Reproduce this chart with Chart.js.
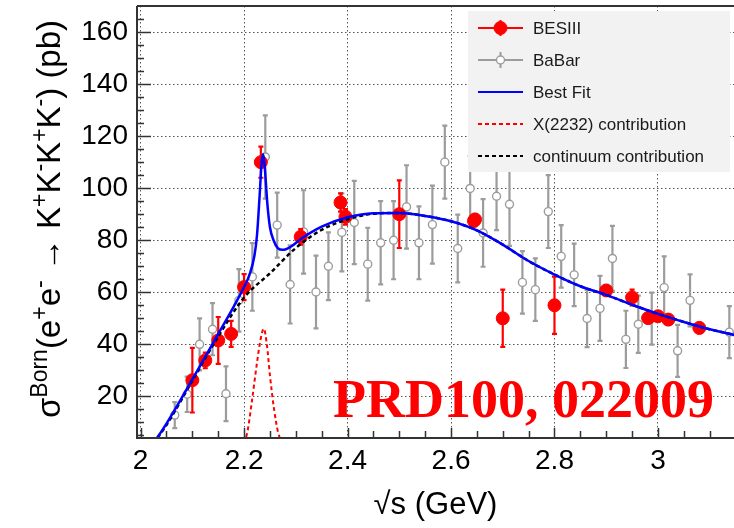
<!DOCTYPE html>
<html>
<head>
<meta charset="utf-8">
<script src="https://cdn.jsdelivr.net/npm/chart.js@4.4.1/dist/chart.umd.min.js"></script>
<style>
  body { margin: 0; background: #fff; }
  #wrap { width: 734px; height: 528px; }
</style>
</head>
<body>
<div id="wrap"><canvas id="myChart" width="734" height="528"></canvas></div>
<script>
// BESIII points (sqrt(s) in GeV, cross section in pb, error)
const besE   = [2.1, 2.125, 2.15, 2.175, 2.2, 2.2324, 2.3094, 2.3864, 2.396, 2.5, 2.6444, 2.6464, 2.7, 2.8, 2.9, 2.95, 2.981, 3.0, 3.02, 3.08];
const besXs  = [26.2, 33.8, 41.5, 44.0, 62.0, 110.0, 81.3, 94.5, 89.0, 90.0, 87.4, 88.0, 50.0, 55.0, 60.7, 58.0, 50.1, 50.8, 49.5, 46.3];
const besErr = [12.4, 3, 9, 5, 5, 6, 3, 3.5, 3, 13, 2, 2, 11, 11, 2, 3, 2, 2, 2, 2];

// BaBar points
const babE   = [2.066, 2.090, 2.114, 2.139, 2.165, 2.190, 2.216, 2.241, 2.264, 2.289, 2.315, 2.339, 2.363, 2.389, 2.413, 2.439, 2.464, 2.489, 2.514, 2.538, 2.564, 2.588, 2.613, 2.637, 2.662, 2.688, 2.713, 2.738, 2.763, 2.788, 2.813, 2.838, 2.863, 2.888, 2.912, 2.938, 2.962, 2.988, 3.012, 3.038, 3.062, 3.138];
const babXs  = [12.8, 20.8, 40.0, 45.8, 21.0, 56.9, 65.9, 112.0, 85.8, 63.0, 83.2, 60.1, 70.0, 83.0, 86.8, 70.8, 79.0, 80.0, 92.8, 79.0, 86.0, 110.0, 76.8, 99.9, 82.8, 96.9, 93.8, 63.8, 61.0, 91.0, 73.8, 66.7, 49.9, 53.8, 73.0, 41.9, 47.7, 49.9, 61.8, 37.5, 56.9, 44.7];
const babErr = [5, 6.8, 10, 10, 10.5, 12, 13, 16, 12.5, 15, 16, 14, 13, 15, 16, 14, 16, 15, 16, 14, 15, 14, 13, 12.5, 13, 13, 16, 12, 12, 14, 12, 12, 11, 12.5, 12.5, 11, 11, 10, 12, 10, 10, 10];

// fit curves
const fitE  = [2.025, 2.05, 2.1, 2.15, 2.18, 2.2, 2.21, 2.22, 2.225, 2.23, 2.234, 2.237, 2.24, 2.245, 2.25, 2.257, 2.265, 2.275, 2.29, 2.31, 2.35, 2.4, 2.45, 2.5, 2.55, 2.6, 2.65, 2.7, 2.75, 2.8, 2.85, 2.9, 2.95, 3.0, 3.05, 3.1, 3.15];
const fitXs = [2, 9.5, 26.5, 44, 54.5, 62, 66.5, 74, 82, 97, 110, 113, 108, 94, 85, 80, 77, 76.3, 77.5, 80.5, 85.2, 88.8, 90.4, 90.5, 89.3, 87.3, 83.8, 78.3, 72, 66.8, 62.3, 59, 55.2, 51.7, 48.6, 45.8, 43.5];
const contE  = [2.025, 2.05, 2.1, 2.15, 2.2, 2.25, 2.3, 2.35, 2.4, 2.45, 2.5, 2.55, 2.6, 2.65, 2.7, 2.75, 2.8, 2.85, 2.9, 2.95, 3.0, 3.05, 3.1, 3.15];
const contXs = [2, 9, 26, 43, 58, 67.3, 77, 84, 88, 90.2, 90.5, 89.3, 87.3, 83.8, 78.3, 72, 66.8, 62.3, 59, 55.2, 51.7, 48.6, 45.8, 43.5];
const resE  = [2.19, 2.2, 2.207, 2.215, 2.225, 2.232, 2.238, 2.244, 2.25, 2.258, 2.266, 2.28];
const resXs = [0, 2, 7, 18, 33, 42, 46, 40, 28, 15, 6, 0];

// axis ticks
const xTickVals = [2, 2.2, 2.4, 2.6, 2.8, 3];
const xTickLabels = ['2', '2.2', '2.4', '2.6', '2.8', '3'];
const yTickVals = [20, 40, 60, 80, 100, 120, 140, 160];

const pts = (xs, ys) => xs.map((x, i) => ({ x: x, y: ys[i] }));

// error bars drawn just before the dataset's markers
const errorBars = {
  id: 'errorBars',
  beforeDatasetDraw(chart, args) {
    const ds = chart.data.datasets[args.index];
    if (!ds.errors) return;
    const { ctx, chartArea, scales: { x, y } } = chart;
    ctx.save();
    ctx.beginPath();
    ctx.rect(chartArea.left, chartArea.top, chartArea.width, chartArea.height);
    ctx.clip();
    ctx.strokeStyle = ds.errColor;
    ctx.lineWidth = 2.2;
    ds.data.forEach((p, i) => {
      const px = x.getPixelForValue(p.x);
      const top = y.getPixelForValue(p.y + ds.errors[i]);
      const bot = y.getPixelForValue(p.y - ds.errors[i]);
      ctx.beginPath();
      ctx.moveTo(px, top); ctx.lineTo(px, bot);
      ctx.moveTo(px - 2.5, top); ctx.lineTo(px + 2.5, top);
      ctx.moveTo(px - 2.5, bot); ctx.lineTo(px + 2.5, bot);
      ctx.stroke();
    });
    ctx.restore();
  }
};

// ROOT-like frame with inward ticks, legend box, y title and reference text
const decorations = {
  id: 'decorations',
  afterDatasetsDraw(chart) {
    const ctx = chart.ctx;
    const ds = chart.data.datasets;
    ctx.save();
    ctx.fillStyle = '#f2f2f2';
    ctx.fillRect(468, 11, 262, 161);
    ctx.font = '17px "Liberation Sans", Arial, sans-serif';
    ctx.textBaseline = 'middle';
    ds.forEach((d, i) => {
      const yy = 28 + 32 * i;
      ctx.save();
      ctx.strokeStyle = d.borderColor;
      ctx.lineWidth = 2;
      if (d.borderDash) ctx.setLineDash(d.borderDash);
      ctx.beginPath(); ctx.moveTo(478, yy); ctx.lineTo(523, yy); ctx.stroke();
      ctx.setLineDash([]);
      if (d.errors) {
        ctx.strokeStyle = d.errColor;
        ctx.beginPath(); ctx.moveTo(500.5, yy - 8); ctx.lineTo(500.5, yy + 8); ctx.stroke();
        ctx.beginPath(); ctx.arc(500.5, yy, d.pointRadius, 0, Math.PI * 2);
        ctx.fillStyle = d.pointBackgroundColor; ctx.fill();
        ctx.lineWidth = d.pointBorderWidth; ctx.strokeStyle = d.pointBorderColor; ctx.stroke();
      }
      ctx.restore();
      ctx.fillStyle = '#1a1a1a';
      ctx.fillText(d.label, 533, yy + 1);
    });
    ctx.restore();
  },
  afterDraw(chart) {
    const { ctx, chartArea: a, scales: { x, y } } = chart;
    ctx.save();
    ctx.strokeStyle = '#333';
    ctx.lineWidth = 2;
    ctx.beginPath();
    ctx.moveTo(a.left, a.top); ctx.lineTo(a.right, a.top);
    ctx.moveTo(a.left, a.top); ctx.lineTo(a.left, a.bottom); ctx.lineTo(a.right, a.bottom);
    ctx.stroke();
    ctx.lineWidth = 1.5;
    ctx.beginPath();
    for (let v = 5; v < y.max; v += 5) {
      if (v < y.min) continue;
      const py = Math.round(y.getPixelForValue(v)) + 0.5;
      const len = v % 20 === 0 ? 14 : 7;
      ctx.moveTo(a.left, py); ctx.lineTo(a.left + len, py);
    }
    for (let k = 0; k <= 23; k++) {
      const v = 2 + k * 0.05;
      if (v > x.max) break;
      const px = Math.round(x.getPixelForValue(v)) + 0.5;
      const len = k % 4 === 0 ? 10 : 7;
      ctx.moveTo(px, a.bottom); ctx.lineTo(px, a.bottom - len);
    }
    ctx.stroke();

    // y axis title with superscripts
    const parts = [['\u03c3', 0], ['Born', 1], ['(e', 0], ['+', 1], ['e', 0], ['-', 1], [' \u2192 K', 0], ['+', 1], ['K', 0], ['-', 1], ['K', 0], ['+', 1], ['K', 0], ['-', 1], [') (pb)', 0]];
    const big = '33px "Liberation Sans", Arial, sans-serif';
    const small = '23px "Liberation Sans", Arial, sans-serif';
    let total = 0;
    parts.forEach(p => { ctx.font = p[1] ? small : big; total += ctx.measureText(p[0]).width; });
    ctx.translate(60, 219);
    ctx.rotate(-Math.PI / 2);
    ctx.fillStyle = '#000';
    ctx.textBaseline = 'alphabetic';
    let cx = -total / 2;
    parts.forEach(p => {
      ctx.font = p[1] ? small : big;
      ctx.fillText(p[0], cx, p[1] ? -13 : 0);
      cx += ctx.measureText(p[0]).width;
    });
    ctx.restore();

    ctx.save();
    ctx.font = 'bold 54px "Liberation Serif", "Times New Roman", serif';
    ctx.fillStyle = '#ff0000';
    ctx.textBaseline = 'alphabetic';
    ctx.fillText('PRD100, 022009', 333, 417);
    ctx.restore();
  }
};

const noPad = s => { s.paddingTop = 0; s.paddingBottom = 0; s.paddingLeft = 0; s.paddingRight = 0; };

const ctx = document.getElementById('myChart').getContext('2d');
new Chart(ctx, {
  type: 'scatter',
  data: {
    datasets: [
      {
        label: 'BESIII', data: pts(besE, besXs), errors: besErr, errColor: '#ff0000',
        borderColor: '#ff0000', pointRadius: 6.5, pointBackgroundColor: '#ff0000',
        pointBorderColor: '#ff0000', pointBorderWidth: 1, order: 3
      },
      {
        label: 'BaBar', data: pts(babE, babXs), errors: babErr, errColor: '#9c9c9c',
        borderColor: '#9c9c9c', pointRadius: 4, pointBackgroundColor: '#ffffff',
        pointBorderColor: '#9c9c9c', pointBorderWidth: 1.4, order: 4
      },
      {
        label: 'Best Fit', data: pts(fitE, fitXs), showLine: true, borderColor: '#0000ff',
        borderWidth: 2.5, pointRadius: 0, cubicInterpolationMode: 'monotone', order: 0
      },
      {
        label: 'X(2232) contribution', data: pts(resE, resXs), showLine: true, borderColor: '#ff0000',
        borderWidth: 2, borderDash: [4, 3], pointRadius: 0, cubicInterpolationMode: 'monotone', order: 2
      },
      {
        label: 'continuum contribution', data: pts(contE, contXs), showLine: true, borderColor: '#000000',
        borderWidth: 2.5, borderDash: [4, 3], pointRadius: 0, cubicInterpolationMode: 'monotone', order: 1
      }
    ]
  },
  options: {
    responsive: false,
    devicePixelRatio: 1,
    animation: false,
    events: [],
    layout: { autoPadding: false, padding: { top: 6, right: 0, left: 0, bottom: 0 } },
    plugins: { legend: { display: false }, tooltip: { enabled: false } },
    scales: {
      x: {
        type: 'linear', min: 1.993, max: 3.147,
        afterFit: s => { s.height = 90; noPad(s); },
        afterBuildTicks: s => { s.ticks = xTickVals.map(v => ({ value: v })); },
        border: { display: false, dash: [1.5, 2.5] },
        grid: { color: '#555', lineWidth: 1, drawTicks: false },
        ticks: {
          padding: 6, color: '#000', autoSkip: false, maxRotation: 0,
          font: { family: '"Liberation Sans", Arial, sans-serif', size: 28 },
          callback: (v, i) => xTickLabels[i]
        },
        title: {
          display: true, text: '\u221as (GeV)', color: '#000',
          font: { family: '"Liberation Sans", Arial, sans-serif', size: 31 },
          padding: { top: 0, bottom: 4 }
        }
      },
      y: {
        type: 'linear', min: 4, max: 170,
        afterFit: s => { s.width = 137; noPad(s); },
        afterBuildTicks: s => { s.ticks = yTickVals.map(v => ({ value: v })); },
        border: { display: false, dash: [1.5, 2.5] },
        grid: { color: '#555', lineWidth: 1, drawTicks: false },
        ticks: {
          padding: 9, color: '#000', autoSkip: false,
          font: { family: '"Liberation Sans", Arial, sans-serif', size: 28 },
          callback: v => String(v)
        }
      }
    }
  },
  plugins: [errorBars, decorations]
});
</script>
</body>
</html>
